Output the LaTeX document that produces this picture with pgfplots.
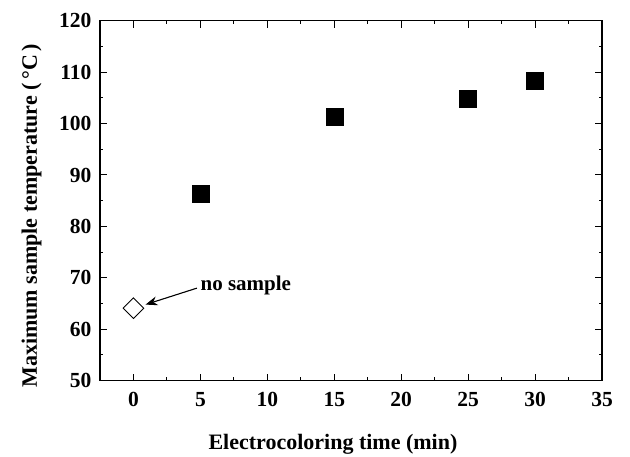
\documentclass[border=0pt]{standalone}
\usepackage{fontspec}
\setmainfont{Liberation Serif}
\usepackage{pgfplots}
\pgfplotsset{compat=1.18}
\usetikzlibrary{arrows.meta}

\begin{document}
\begin{tikzpicture}
\begin{axis}[
  scale only axis,
  width=502pt, height=360pt,
  xmin=-2.5, xmax=35,
  ymin=50, ymax=120,
  xtick={0,5,...,35},
  ytick={50,60,...,120},
  minor x tick num=1,
  minor y tick num=1,
  tick align=inside,
  major tick length=7pt,
  minor tick length=3.5pt,
  axis line style={line width=1.2pt},
  every tick/.style={line width=1pt, black},
  ticklabel style={font=\fontsize{21.5}{25}\selectfont\bfseries},
  /pgf/number format/assume math mode=true,
  xticklabel style={yshift=-8pt},
  yticklabel style={xshift=-5pt},
  clip=false,
]
% filled squares: electrocolored samples
\addplot[only marks, mark=square*, mark size=8.5pt, mark options={fill=black, draw=black}]
  coordinates {(5,86.4) (15,101.3) (25,104.8) (30,108.4)};
% open diamond: no sample
\addplot[only marks, mark=square, mark size=7.3pt, mark options={rotate=45, draw=black, fill=white, line width=0.9pt}]
  coordinates {(0,64.1)};

\draw[line width=1.1pt, -{Stealth[length=12pt, width=9pt]}] (axis cs:4.74,68.0) -- (axis cs:0.9,64.8);
\node[anchor=base west, font=\fontsize{21}{25}\selectfont\bfseries, inner sep=0pt] at (axis cs:5.0,67.5) {no sample};

\node[anchor=base, font=\fontsize{22}{26}\selectfont\bfseries, inner sep=0pt] at ([yshift=-69pt]rel axis cs:0.464,0) {Electrocoloring time (min)};
\node[anchor=base, rotate=90, font=\fontsize{22}{26}\selectfont\bfseries, inner sep=0pt] at ([xshift=-63pt,yshift=165pt]rel axis cs:0,0) {Maximum sample temperature (\,°C\,)};
\end{axis}
\pgfresetboundingbox
\path[use as bounding box] ([shift={(-100pt,-76pt)}]current axis.south west) rectangle ([shift={(28pt,20.7pt)}]current axis.north east);
\end{tikzpicture}
\end{document}
